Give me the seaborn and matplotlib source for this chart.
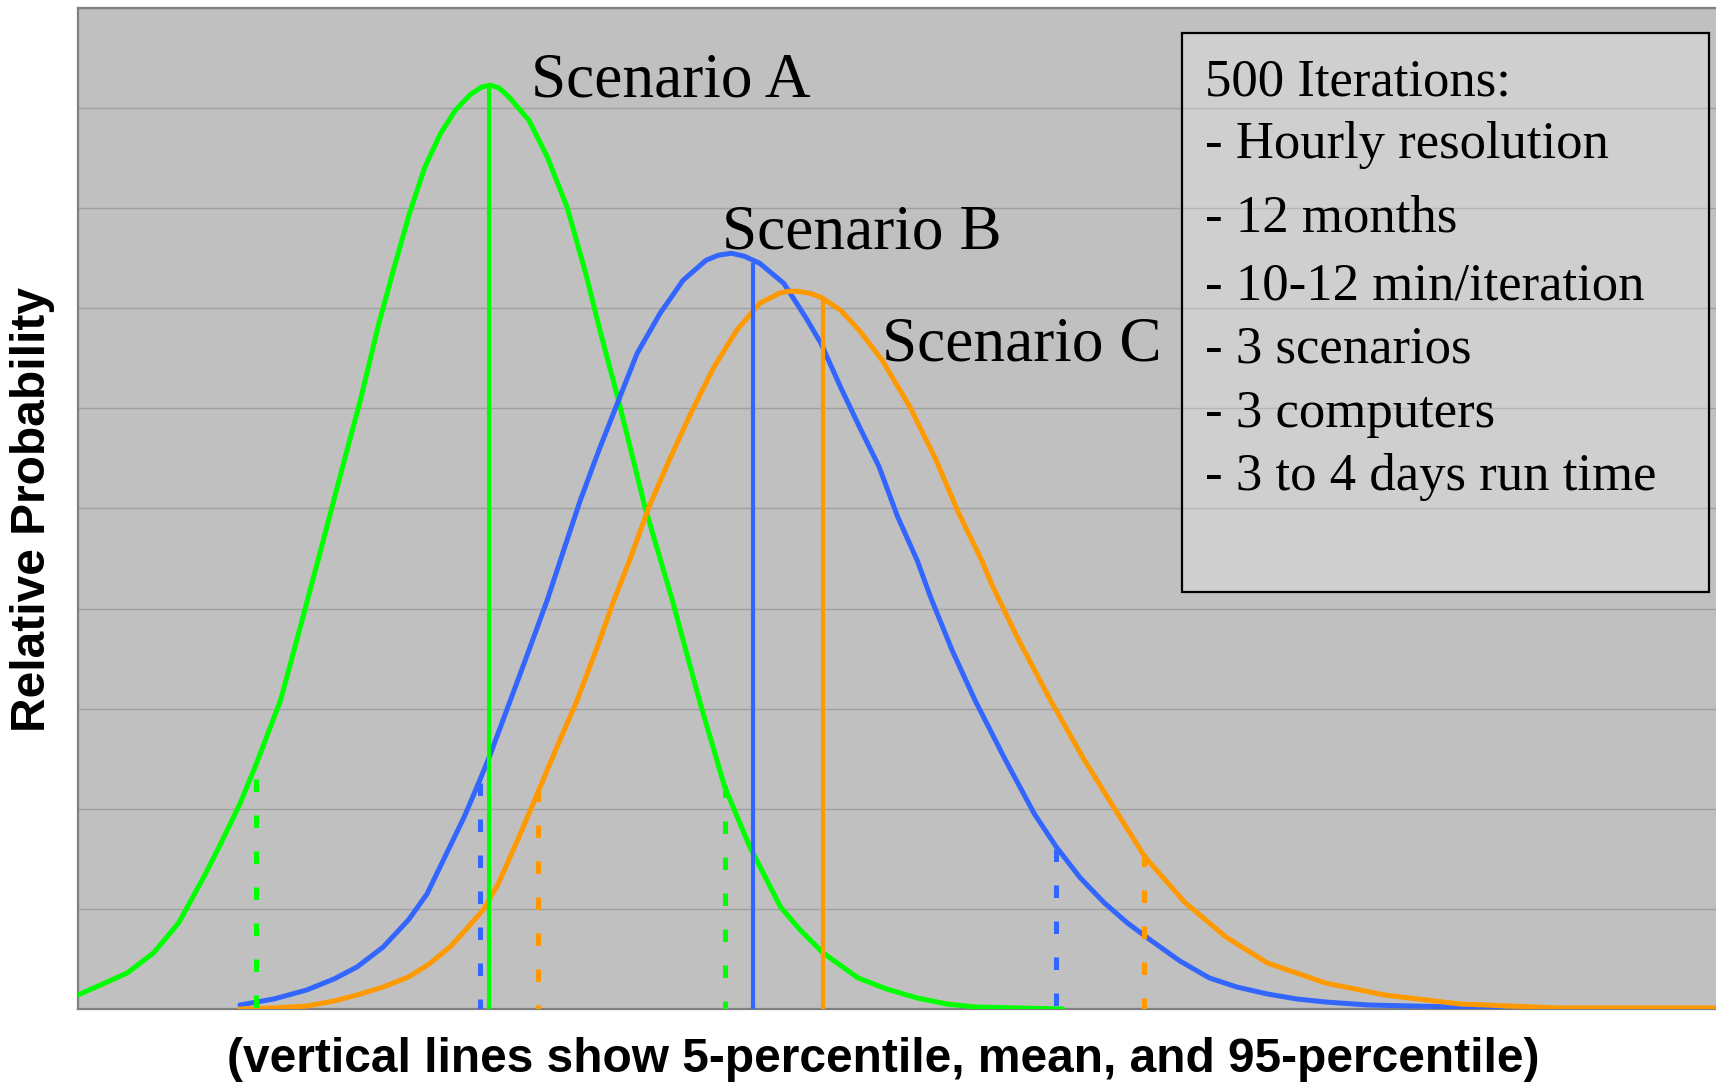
import numpy as np
import pandas as pd
import matplotlib
matplotlib.use("Agg")
import matplotlib.pyplot as plt
from matplotlib import font_manager
from matplotlib.patches import Rectangle
import seaborn as sns

# ---------------- data ----------------
scenarios = ["Scenario A", "Scenario B", "Scenario C"]
colors = ["#00FF00", "#3366FF", "#FF9900"]

a_x = [0, 45, 69, 92, 115, 129, 148, 163, 185, 204, 221, 239, 258, 275, 289, 303, 317, 331,
       345, 359, 369, 377, 385, 394, 412, 429, 447, 464, 477, 494, 518, 543, 568, 591, 614,
       642, 660, 681, 713, 739, 767, 794, 820, 859, 900]
a_y = [0.14, 0.36, 0.56, 0.86, 1.32, 1.62, 2.05, 2.45, 3.08, 3.85, 4.55, 5.30, 6.08, 6.85,
       7.41, 7.95, 8.41, 8.74, 8.98, 9.14, 9.21, 9.23, 9.20, 9.11, 8.88, 8.51, 8.01, 7.35,
       6.78, 6.08, 5.02, 4.09, 3.08, 2.22, 1.62, 1.02, 0.79, 0.56, 0.31, 0.20, 0.11, 0.05,
       0.02, 0.01, 0.0]

b_x = [148, 179, 209, 234, 255, 279, 302, 319, 334, 353, 367, 377, 395, 412, 429, 445, 459,
       476, 494, 511, 532, 553, 574, 585, 597, 609, 623, 645, 665, 679, 697, 714, 732, 749,
       767, 779, 799, 820, 847, 874, 894, 916, 938, 959, 980, 1007, 1034, 1059, 1087, 1114,
       1140, 1179, 1219, 1263, 1300]
b_y = [0.04, 0.10, 0.19, 0.30, 0.42, 0.62, 0.89, 1.15, 1.49, 1.92, 2.28, 2.55, 3.08, 3.58,
       4.09, 4.62, 5.08, 5.58, 6.08, 6.55, 6.95, 7.28, 7.48, 7.53, 7.55, 7.52, 7.45, 7.25,
       6.91, 6.65, 6.21, 5.82, 5.42, 4.92, 4.48, 4.12, 3.58, 3.08, 2.50, 1.95, 1.62, 1.31,
       1.06, 0.86, 0.69, 0.48, 0.31, 0.22, 0.15, 0.10, 0.07, 0.04, 0.03, 0.02, 0.0]

c_x = [148, 179, 209, 234, 255, 279, 302, 321, 340, 355, 371, 384, 395, 407, 419, 437, 456,
       474, 490, 504, 522, 539, 560, 581, 602, 623, 641, 649, 658, 669, 679, 697, 714, 735,
       760, 784, 805, 826, 836, 859, 889, 919, 948, 975, 1012, 1049, 1087, 1140, 1194, 1263,
       1354, 1497]
c_y = [0.0, 0.01, 0.03, 0.08, 0.14, 0.22, 0.32, 0.45, 0.62, 0.80, 1.00, 1.25, 1.52, 1.82,
       2.13, 2.60, 3.08, 3.60, 4.09, 4.48, 5.02, 5.45, 5.95, 6.41, 6.78, 7.05, 7.15, 7.17,
       7.17, 7.15, 7.11, 6.98, 6.78, 6.48, 6.02, 5.49, 4.95, 4.48, 4.22, 3.70, 3.08, 2.50,
       1.99, 1.52, 1.06, 0.72, 0.46, 0.26, 0.14, 0.05, 0.01, 0.01]

# 5-percentile, mean, 95-percentile positions and the curve height at each
p5_x = [163, 367, 420]
mean_x = [376, 617, 681]
p95_x = [591, 894, 974]
p5_h = [2.30, 2.26, 2.20]
mean_h = [9.23, 7.45, 7.10]
p95_h = [2.24, 1.60, 1.55]

label_x = [414, 589, 735]
label_y = [9.12, 7.60, 6.48]

box_lines = ["500 Iterations:", "- Hourly resolution", "- 12 months",
             "- 10-12 min/iteration", "- 3 scenarios", "- 3 computers",
             "- 3 to 4 days run time"]
box_line_y = [9.13, 8.50, 7.77, 7.09, 6.46, 5.81, 5.18]

x_label = "(vertical lines show 5-percentile, mean, and 95-percentile)"
y_label = "Relative Probability"

# ---------------- styling ----------------
sns.set_style("white")
names = {f.name for f in font_manager.fontManager.ttflist}
if "Liberation Sans Narrow" in names:
    sans_fam, sans_size = ["Liberation Sans Narrow", "Liberation Sans", "DejaVu Sans"], 42
else:
    sans_fam, sans_size = ["Liberation Sans", "DejaVu Sans"], 34.5
serif_fam = ["Liberation Serif", "DejaVu Serif"]
plt.rcParams["font.family"] = serif_fam
plt.rcParams["text.color"] = "black"

df = pd.concat([
    pd.DataFrame({"x": a_x, "y": a_y, "scenario": scenarios[0]}),
    pd.DataFrame({"x": b_x, "y": b_y, "scenario": scenarios[1]}),
    pd.DataFrame({"x": c_x, "y": c_y, "scenario": scenarios[2]}),
], ignore_index=True)

fig = plt.figure(figsize=(17.16, 10.86), dpi=100)
ax = fig.add_axes([78 / 1716, 1 - 1009 / 1086, (1716 - 78) / 1716, (1009 - 8) / 1086])
ax.set_facecolor("#C0C0C0")

sns.lineplot(data=df, x="x", y="y", hue="scenario", palette=dict(zip(scenarios, colors)),
             estimator=None, sort=False, legend=False, lw=3.6, ax=ax, zorder=3)

for i, col in enumerate(colors):
    ax.plot([mean_x[i], mean_x[i]], [0, mean_h[i]], color=col, lw=3.0, zorder=4,
            solid_capstyle="butt")
    for px, ph in ((p5_x[i], p5_h[i]), (p95_x[i], p95_h[i])):
        ax.plot([px, px], [ph, 0], color=col, lw=3.6, zorder=4,
                dashes=(2.5, 4.7), dash_capstyle="butt")

for i, s in enumerate(scenarios):
    ax.text(label_x[i], label_y[i], s, fontsize=45.5, family=serif_fam, color="black",
            ha="left", va="baseline", zorder=6)

ax.add_patch(Rectangle((1009, 4.17), 482, 5.58, facecolor=(1, 1, 1, 0.25),
                       edgecolor="black", lw=1.6, zorder=5))
for t, yy in zip(box_lines, box_line_y):
    ax.text(1030, yy, t, fontsize=38, family=serif_fam, color="black",
            ha="left", va="baseline", zorder=6)

ax.set_xlim(0, 1497)
ax.set_ylim(0, 10)
ax.set_yticks(np.arange(0, 11, 1))
ax.set_xticks([])
ax.yaxis.grid(True, color="#A0A0A0", lw=1.0)
ax.xaxis.grid(False)
ax.set_axisbelow(True)
ax.tick_params(left=False, bottom=False, labelleft=False, labelbottom=False)
for side in ("left", "top", "bottom", "right"):
    ax.spines[side].set_color("#808080")
    ax.spines[side].set_linewidth(1.6)
ax.spines["right"].set_visible(False)
ax.set_xlabel("")
ax.set_ylabel("")

fig.text(883 / 1716, 1 - 1059 / 1086, x_label, family=sans_fam, fontsize=sans_size,
         fontweight="bold", color="black", ha="center", va="center")
fig.text(33 / 1716, 1 - 510 / 1086, y_label, family=sans_fam, fontsize=sans_size,
         fontweight="bold", color="black", ha="center", va="center", rotation=90)

fig.savefig("out.png", dpi=100, facecolor="white")
